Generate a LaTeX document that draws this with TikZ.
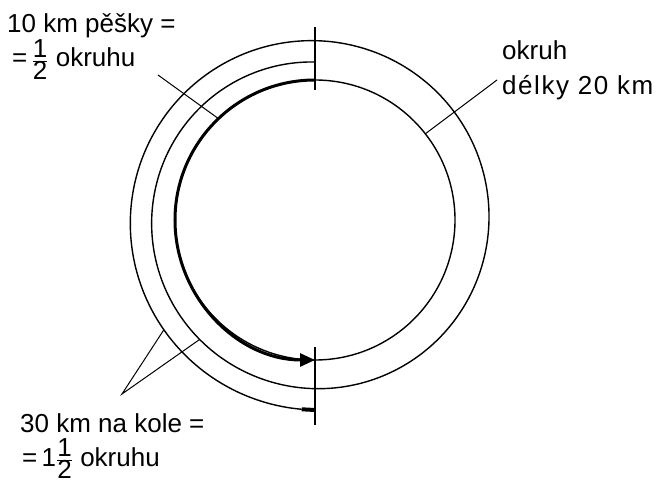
\documentclass[tikz,border=0pt]{standalone}
\usepackage{fontspec}
\setmainfont{Liberation Sans}
\usetikzlibrary{arrows.meta}
\newcommand{\half}{\ensuremath{\frac{\hbox{1}}{\hbox{2}}}}
\begin{document}
\begin{tikzpicture}[x=1pt, y=1pt,
  declare function={rb(\s)=158+0.059259*(\s-90);},
  lbl/.style={anchor=base west, inner sep=0pt, font=\fontsize{26}{30}\selectfont},
  ringline/.style={line width=1.4pt},
  leader/.style={line width=1pt}]
\useasboundingbox (-315,-266) rectangle (348,220);
% ring road and the walk
\draw[ringline] (0,0) circle[radius=140pt];
\draw[line width=3pt, -{Triangle[length=15pt,width=13pt]}] (90:140) arc[start angle=90, end angle=270, radius=140pt];
% the ride, one and a half rounds
\draw[ringline] plot[domain=90:626, samples=160, smooth, variable=\a] (\a:{rb(\a)});
\draw[line width=4pt] (626:{rb(626)}) -- (630:{rb(630)});
% start and end marks
\coordinate (topmark) at (0,193);
\coordinate (topfoot) at (0,130);
\coordinate (botmark) at (0,-127);
\coordinate (botfoot) at (0,-205);
\draw[ringline] (topmark) -- (topfoot);
\draw[ringline] (botmark) -- (botfoot);
% labels
\node[lbl] (walk) at (-308,187) {10 km pěšky =};
\node[lbl] (walkb) at (-303,153) {=\,\half\ okruhu};
\node[lbl] (ring) at (187,160) {okruh};
\node[lbl, font=\fontsize{26}{30}\selectfont\addfontfeatures{LetterSpace=6}] (ringb) at (187,125) {délky 20 km};
\node[lbl] (bike) at (-295,-212) {30 km na kole =};
\node[lbl] (bikeb) at (-293,-246) {=\,1\half\ okruhu};
% leader lines
\coordinate (walkfrom) at (-157,145);
\coordinate (walkto) at (133.6:140);
\coordinate (ringfrom) at (182,140);
\coordinate (ringto) at (38:140);
\coordinate (bikefrom) at (-193,-174);
\coordinate (biketoa) at (216:{rb(576)});
\coordinate (biketob) at (226:{rb(226)});
\draw[leader] (walkfrom) -- (walkto);
\draw[leader] (ringfrom) -- (ringto);
\draw[leader] (biketoa) -- (bikefrom) -- (biketob);
\end{tikzpicture}
\end{document}
